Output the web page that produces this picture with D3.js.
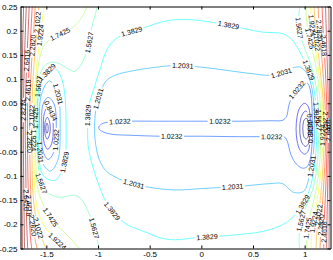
<!DOCTYPE html>
<html><head><meta charset="utf-8">
<script src="https://cdn.jsdelivr.net/npm/d3@7"></script>
<style>body{margin:0;background:#fff;} svg{display:block;}</style>
</head><body>
<svg id="chart" width="333" height="260"></svg>
<script>
// ---------- data ----------
const xDomain = [-1.75, 1.25];
const yDomain = [-0.25, 0.25];
const xTicks = [-1.5, -1, -0.5, 0, 0.5, 1];
const yTicks = [-0.25, -0.2, -0.15, -0.1, -0.05, 0, 0.05, 0.1, 0.15, 0.2, 0.25];
const levelValues = [0.4838, 0.6636, 0.8434, 1.0232, 1.2031, 1.3829, 1.5627, 1.7425, 1.9224, 2.1022, 2.2820, 2.4618, 2.6416, 2.8214, 3.0012];

// contour lines, [x, y] points in data units
const leftMin0484 = [[-1.494,0.009],[-1.485,0.005],[-1.482,-0.002],[-1.485,-0.008],[-1.494,-0.012],[-1.502,-0.008],[-1.505,-0.002],[-1.502,0.005]];
const leftMin0664 = [[-1.491,0.021],[-1.472,0.014],[-1.462,-0.002],[-1.472,-0.017],[-1.491,-0.024],[-1.509,-0.017],[-1.516,-0.002],[-1.509,0.014]];
const leftMin0843 = [[-1.486,0.042],[-1.448,0.029],[-1.433,-0.002],[-1.448,-0.033],[-1.486,-0.045],[-1.520,-0.033],[-1.528,-0.002],[-1.520,0.029]];
const leftMin1023 = [[-1.482,0.062],[-1.424,0.048],[-1.404,-0.002],[-1.424,-0.049],[-1.482,-0.066],[-1.532,-0.049],[-1.544,-0.002],[-1.532,0.048]];
const leftMin1203 = [[-1.472,0.096],[-1.395,0.075],[-1.366,-0.002],[-1.390,-0.068],[-1.462,-0.090],[-1.540,-0.072],[-1.564,-0.002],[-1.549,0.067]];
const leftMin1383 = [[-1.424,0.122],[-1.347,0.098],[-1.308,-0.002],[-1.332,-0.078],[-1.414,-0.109],[-1.530,-0.099],[-1.578,-0.002],[-1.549,0.098]];
const rightMin0484 = [[1.014,0.019],[1.031,0.015],[1.039,0.007],[1.041,-0.003],[1.039,-0.012],[1.031,-0.020],[1.014,-0.024],[0.994,-0.020],[0.985,-0.012],[0.982,-0.003],[0.985,0.007],[0.994,0.015]];
const rightMin0664 = [[1.009,0.034],[1.035,0.028],[1.047,0.015],[1.050,-0.003],[1.047,-0.020],[1.035,-0.034],[1.009,-0.039],[0.980,-0.034],[0.959,-0.020],[0.953,-0.003],[0.959,0.015],[0.980,0.028]];
const rightMin0843 = [[0.999,0.050],[1.033,0.044],[1.052,0.025],[1.057,-0.003],[1.052,-0.030],[1.033,-0.049],[0.999,-0.055],[0.956,-0.047],[0.927,-0.028],[0.917,-0.003],[0.927,0.023],[0.956,0.042]];
const valley1023 = [[-0.994,-0.001],[-0.960,0.008],[-0.874,0.011],[-0.690,0.013],[-0.401,0.013],[-0.014,0.013],[0.372,0.013],[0.661,0.014],[0.787,0.015],[0.825,0.023],[0.845,0.044],[0.874,0.062],[0.931,0.079],[0.989,0.091],[1.023,0.092],[1.045,0.085],[1.060,0.071],[1.070,0.046],[1.074,-0.002],[1.070,-0.039],[1.060,-0.059],[1.042,-0.074],[1.018,-0.082],[0.980,-0.084],[0.931,-0.078],[0.883,-0.064],[0.854,-0.047],[0.835,-0.030],[0.806,-0.020],[0.681,-0.019],[0.372,-0.019],[-0.014,-0.018],[-0.401,-0.018],[-0.690,-0.016],[-0.864,-0.014],[-0.951,-0.009]];
const basin1203 = [[-1.033,-0.002],[-1.028,0.025],[-1.009,0.050],[-0.970,0.077],[-0.922,0.096],[-0.835,0.108],[-0.642,0.118],[-0.420,0.125],[-0.256,0.128],[-0.014,0.125],[0.179,0.120],[0.497,0.111],[0.661,0.108],[0.796,0.114],[0.883,0.123],[0.951,0.125],[0.999,0.118],[1.038,0.104],[1.070,0.081],[1.089,0.046],[1.098,-0.002],[1.091,-0.037],[1.078,-0.064],[1.060,-0.088],[1.033,-0.111],[0.999,-0.130],[0.951,-0.135],[0.883,-0.133],[0.787,-0.116],[0.661,-0.116],[0.401,-0.121],[0.014,-0.126],[-0.256,-0.129],[-0.516,-0.123],[-0.738,-0.111],[-0.835,-0.102],[-0.931,-0.088],[-0.996,-0.061],[-1.028,-0.026]];
const basin1383 = [[-1.100,-0.002],[-1.096,0.031],[-1.076,0.056],[-1.044,0.077],[-1.009,0.102],[-0.975,0.124],[-0.941,0.147],[-0.900,0.166],[-0.845,0.180],[-0.770,0.191],[-0.680,0.198],[-0.577,0.204],[-0.449,0.214],[-0.288,0.222],[-0.111,0.223],[0.082,0.218],[0.275,0.211],[0.468,0.202],[0.594,0.197],[0.787,0.194],[0.864,0.184],[0.922,0.168],[0.980,0.145],[1.033,0.122],[1.071,0.098],[1.098,0.067],[1.113,0.036],[1.118,-0.002],[1.113,-0.037],[1.100,-0.072],[1.076,-0.105],[1.038,-0.134],[0.980,-0.159],[0.912,-0.179],[0.825,-0.196],[0.709,-0.208],[0.565,-0.216],[0.372,-0.221],[0.150,-0.225],[-0.063,-0.228],[-0.256,-0.232],[-0.401,-0.228],[-0.516,-0.218],[-0.642,-0.208],[-0.738,-0.198],[-0.854,-0.175],[-0.931,-0.150],[-1.009,-0.109],[-1.067,-0.068],[-1.096,-0.037]];
const leftWall1563 = [[-1.004,0.252],[-1.028,0.232],[-1.067,0.201],[-1.091,0.170],[-1.134,0.143],[-1.183,0.124],[-1.231,0.116],[-1.298,0.122],[-1.366,0.131],[-1.443,0.135],[-1.511,0.129],[-1.554,0.114],[-1.575,0.087],[-1.588,0.046],[-1.592,-0.002],[-1.588,-0.047],[-1.573,-0.088],[-1.549,-0.115],[-1.494,-0.134],[-1.382,-0.144],[-1.298,-0.142],[-1.221,-0.140],[-1.163,-0.148],[-1.115,-0.165],[-1.060,-0.192],[-1.012,-0.229],[-0.985,-0.252]];
const leftWall1743 = [[-1.105,0.252],[-1.144,0.232],[-1.202,0.215],[-1.269,0.203],[-1.366,0.193],[-1.462,0.182],[-1.520,0.170],[-1.559,0.149],[-1.585,0.118],[-1.599,0.067],[-1.605,-0.002],[-1.602,-0.068],[-1.588,-0.119],[-1.549,-0.150],[-1.491,-0.175],[-1.424,-0.196],[-1.337,-0.214],[-1.250,-0.233],[-1.173,-0.252]];
const leftWall1922 = [[-1.520,0.252],[-1.540,0.222],[-1.564,0.180],[-1.588,0.139],[-1.605,0.098],[-1.617,0.056],[-1.622,-0.002],[-1.619,-0.068],[-1.611,-0.130],[-1.588,-0.167],[-1.549,-0.192],[-1.491,-0.212],[-1.424,-0.229],[-1.366,-0.241],[-1.342,-0.252]];
const leftWall2102 = [[-1.573,0.252],[-1.588,0.211],[-1.607,0.160],[-1.627,0.108],[-1.637,0.056],[-1.641,-0.002],[-1.638,-0.068],[-1.631,-0.130],[-1.612,-0.171],[-1.578,-0.208],[-1.535,-0.233],[-1.501,-0.252]];
const leftWall2282 = [[-1.607,0.252],[-1.622,0.201],[-1.641,0.139],[-1.657,0.067],[-1.662,-0.002],[-1.658,-0.078],[-1.648,-0.150],[-1.631,-0.202],[-1.607,-0.233],[-1.588,-0.252]];
const leftWall2462 = [[-1.636,0.252],[-1.651,0.191],[-1.668,0.118],[-1.680,0.056],[-1.683,-0.002],[-1.680,-0.078],[-1.670,-0.161],[-1.655,-0.223],[-1.641,-0.252]];
const leftWall2642 = [[-1.665,0.252],[-1.680,0.180],[-1.696,0.098],[-1.704,-0.002],[-1.699,-0.088],[-1.691,-0.192],[-1.680,-0.252]];
const leftWall2821 = [[-1.694,0.252],[-1.706,0.180],[-1.718,0.087],[-1.723,-0.002],[-1.719,-0.109],[-1.711,-0.252]];
const leftWall3001 = [[-1.720,0.252],[-1.730,0.160],[-1.738,-0.002],[-1.735,-0.150],[-1.731,-0.252]];
const rightWall1563 = [[0.955,0.252],[0.941,0.226],[0.953,0.197],[0.989,0.170],[1.038,0.143],[1.081,0.114],[1.113,0.081],[1.131,0.046],[1.137,-0.002],[1.131,-0.047],[1.115,-0.088],[1.081,-0.126],[1.028,-0.156],[0.985,-0.179],[0.956,-0.204],[0.946,-0.229],[0.951,-0.252]];
const rightWall1743 = [[1.014,0.252],[1.018,0.222],[1.042,0.191],[1.081,0.155],[1.115,0.118],[1.139,0.081],[1.152,0.046],[1.156,-0.002],[1.152,-0.047],[1.139,-0.088],[1.110,-0.130],[1.071,-0.165],[1.038,-0.196],[1.018,-0.225],[1.014,-0.252]];
const rightWall1922 = [[1.057,0.252],[1.067,0.222],[1.091,0.180],[1.124,0.135],[1.153,0.087],[1.170,0.046],[1.175,-0.002],[1.170,-0.051],[1.153,-0.099],[1.124,-0.146],[1.091,-0.192],[1.067,-0.225],[1.062,-0.252]];
const rightWall2102 = [[1.091,0.252],[1.105,0.205],[1.134,0.149],[1.166,0.087],[1.185,0.036],[1.190,-0.002],[1.185,-0.047],[1.168,-0.109],[1.139,-0.175],[1.115,-0.225],[1.110,-0.252]];
const rightWall2282 = [[1.129,0.252],[1.144,0.197],[1.171,0.131],[1.195,0.056],[1.205,-0.002],[1.198,-0.064],[1.178,-0.140],[1.155,-0.212],[1.149,-0.252]];
const rightWall2462 = [[1.168,0.252],[1.183,0.180],[1.205,0.098],[1.217,-0.002],[1.209,-0.099],[1.190,-0.192],[1.185,-0.252]];
const rightWall2642 = [[1.202,0.252],[1.213,0.170],[1.226,0.077],[1.230,-0.002],[1.225,-0.099],[1.216,-0.192],[1.213,-0.252]];
const rightWall2821 = [[1.234,0.252],[1.238,0.139],[1.242,-0.002],[1.239,-0.130],[1.236,-0.252]];

// which level each line belongs to, and whether it closes on itself
const contourLines = [
  {name:'leftMin0484', level:levelValues[0], closed:true, pts:leftMin0484},
  {name:'leftMin0664', level:levelValues[1], closed:true, pts:leftMin0664},
  {name:'leftMin0843', level:levelValues[2], closed:true, pts:leftMin0843},
  {name:'leftMin1023', level:levelValues[3], closed:true, pts:leftMin1023},
  {name:'leftMin1203', level:levelValues[4], closed:true, pts:leftMin1203},
  {name:'leftMin1383', level:levelValues[5], closed:true, pts:leftMin1383},
  {name:'rightMin0484', level:levelValues[0], closed:true, pts:rightMin0484},
  {name:'rightMin0664', level:levelValues[1], closed:true, pts:rightMin0664},
  {name:'rightMin0843', level:levelValues[2], closed:true, pts:rightMin0843},
  {name:'valley1023', level:levelValues[3], closed:true, pts:valley1023},
  {name:'basin1203', level:levelValues[4], closed:true, pts:basin1203},
  {name:'basin1383', level:levelValues[5], closed:true, pts:basin1383},
  {name:'leftWall1563', level:levelValues[6], closed:false, pts:leftWall1563},
  {name:'leftWall1743', level:levelValues[7], closed:false, pts:leftWall1743},
  {name:'leftWall1922', level:levelValues[8], closed:false, pts:leftWall1922},
  {name:'leftWall2102', level:levelValues[9], closed:false, pts:leftWall2102},
  {name:'leftWall2282', level:levelValues[10], closed:false, pts:leftWall2282},
  {name:'leftWall2462', level:levelValues[11], closed:false, pts:leftWall2462},
  {name:'leftWall2642', level:levelValues[12], closed:false, pts:leftWall2642},
  {name:'leftWall2821', level:levelValues[13], closed:false, pts:leftWall2821},
  {name:'leftWall3001', level:levelValues[14], closed:false, pts:leftWall3001},
  {name:'rightWall1563', level:levelValues[6], closed:false, pts:rightWall1563},
  {name:'rightWall1743', level:levelValues[7], closed:false, pts:rightWall1743},
  {name:'rightWall1922', level:levelValues[8], closed:false, pts:rightWall1922},
  {name:'rightWall2102', level:levelValues[9], closed:false, pts:rightWall2102},
  {name:'rightWall2282', level:levelValues[10], closed:false, pts:rightWall2282},
  {name:'rightWall2462', level:levelValues[11], closed:false, pts:rightWall2462},
  {name:'rightWall2642', level:levelValues[12], closed:false, pts:rightWall2642},
  {name:'rightWall2821', level:levelValues[13], closed:false, pts:rightWall2821}
];

// inline label spots: line name and approximate data position (snapped to the line)
const labelSpots = [
  ['valley1023',-0.787,0.011],['valley1023',0.179,0.013],['valley1023',0.931,0.077],['valley1023',-0.285,-0.018],['valley1023',0.681,-0.019],
  ['basin1203',-0.179,0.126],['basin1203',0.777,0.112],['basin1203',-0.980,0.058],['basin1203',-0.652,-0.115],['basin1203',0.304,-0.123],['basin1203',1.062,-0.080],
  ['basin1383',-0.671,0.197],['basin1383',0.265,0.213],['basin1383',1.038,0.118],['basin1383',1.113,0.031],['basin1383',0.980,-0.159],['basin1383',0.053,-0.226],['basin1383',-0.864,-0.173],['basin1383',-1.100,0.025],
  ['leftMin0843',-1.462,0.034],['leftMin1023',-1.414,-0.026],['leftMin1203',-1.424,0.067],['leftMin1203',-1.559,-0.051],
  ['leftMin1383',-1.482,0.112],['leftMin1383',-1.347,-0.070],
  ['rightMin0843',1.057,-0.010],['rightMin0664',1.045,0.007],
  ['leftWall1563',-1.086,0.176],['leftWall1563',-1.573,0.085],['leftWall1563',-1.559,-0.117],['leftWall1563',-1.043,-0.208],
  ['leftWall1743',-1.366,0.193],['leftWall1743',-1.462,-0.185],['leftWall1743',-1.605,0.019],
  ['leftWall1922',-1.554,0.191],['leftWall1922',-1.395,-0.235],['leftWall1922',-1.622,-0.026],
  ['leftWall2102',-1.593,0.217],['leftWall2102',-1.588,-0.208],['leftWall2102',-1.641,0.025],
  ['leftWall2282',-1.626,0.170],['leftWall2282',-1.631,-0.202],['leftWall2282',-1.662,-0.030],
  ['leftWall2462',-1.660,0.077],['leftWall2462',-1.670,-0.161],
  ['leftWall2642',-1.699,0.139],['leftWall2642',-1.696,-0.150],
  ['leftWall2821',-1.718,0.036],
  ['rightWall1563',0.936,0.205],['rightWall1563',0.980,-0.194],['rightWall1563',1.137,0.015],
  ['rightWall1743',1.057,0.184],['rightWall1743',1.038,-0.208],
  ['rightWall1922',1.086,0.211],['rightWall1922',1.105,-0.196],['rightWall1922',1.175,-0.016],
  ['rightWall2102',1.124,0.180],['rightWall2102',1.144,-0.181],
  ['rightWall2282',1.163,0.201],['rightWall2282',1.171,-0.202],['rightWall2282',1.205,0.011],
  ['rightWall2462',1.192,0.170],['rightWall2462',1.192,-0.216],
  ['rightWall2642',1.226,-0.006]
];

// ---------- drawing ----------
const W = 333, H = 260;
const m = {l:20.5, r:330.5, t:6.5, b:248.5};
const x = d3.scaleLinear().domain(xDomain).range([m.l, m.r]);
const y = d3.scaleLinear().domain(yDomain).range([m.b, m.t]);
const colorLo = 0.574, colorHi = 2.732;
function jet(v){
  const t = Math.max(0, Math.min(1, (v - colorLo) / (colorHi - colorLo)));
  const c = u => Math.round(255 * Math.max(0, Math.min(1, u)));
  return `rgb(${c(1.5-Math.abs(4*t-3))},${c(1.5-Math.abs(4*t-2))},${c(1.5-Math.abs(4*t-1))})`;
}
const FONT = '"Liberation Sans", Arial, Helvetica, sans-serif';
const svg = d3.select('#chart');
svg.append('rect').attr('width',W).attr('height',H).attr('fill','#fff');
const defs = svg.append('defs');
defs.append('clipPath').attr('id','plotClip').append('rect')
  .attr('x',m.l).attr('y',m.t).attr('width',m.r-m.l).attr('height',m.b-m.t);

const gLines = svg.append('g').attr('clip-path','url(#plotClip)');
const gLabels = svg.append('g').attr('clip-path','url(#plotClip)')
  .attr('font-family',FONT).attr('font-size',7).attr('fill','#000');

const lineGen = d3.line().x(d => x(d[0])).y(d => y(d[1]));
const paths = {}, byName = {};
contourLines.forEach(c => {
  byName[c.name] = c;
  lineGen.curve(c.closed ? d3.curveCatmullRomClosed.alpha(0.5) : d3.curveCatmullRom.alpha(0.5));
  paths[c.name] = gLines.append('path').attr('d', lineGen(c.pts))
    .attr('fill','none').attr('stroke', jet(c.level)).attr('stroke-width',0.7)
    .attr('stroke-opacity',0.8);
});

const labelsByLine = {};
labelSpots.forEach(([name, lx, ly]) => {
  const c = byName[name], node = paths[name].node();
  const L = node.getTotalLength(), N = Math.max(60, Math.ceil(L * 2));
  const ax = x(lx), ay = y(ly);
  const pts = [];
  let best = 0, bd = Infinity;
  for (let i = 0; i <= N; i++) {
    const p = node.getPointAtLength(L * i / N);
    pts.push(p);
    const d = (p.x-ax)**2 + (p.y-ay)**2;
    if (d < bd) { bd = d; best = i; }
  }
  const k = 6;
  let i0 = best - k, i1 = best + k;
  if (c.closed) { i0 = (i0 + N) % N; i1 = i1 % N; }
  else { i0 = Math.max(0, i0); i1 = Math.min(N, i1); }
  const p0 = pts[i0], p1 = pts[i1], p = pts[best];
  let ang = Math.atan2(p1.y - p0.y, p1.x - p0.x) * 180 / Math.PI;
  if (ang > 90) ang -= 180;
  if (ang < -90) ang += 180;
  const t = gLabels.append('text')
    .attr('transform', `translate(${p.x},${p.y}) rotate(${ang})`)
    .attr('text-anchor','middle').attr('dy','0.35em')
    .text(c.level.toFixed(4));
  const w = t.node().getComputedTextLength();
  (labelsByLine[name] = labelsByLine[name] || []).push({x:p.x, y:p.y, ang, w});
});

Object.entries(labelsByLine).forEach(([name, arr], i) => {
  const mk = defs.append('mask').attr('id','mk'+i).attr('maskUnits','userSpaceOnUse')
    .attr('x',0).attr('y',0).attr('width',W).attr('height',H);
  mk.append('rect').attr('width',W).attr('height',H).attr('fill','#fff');
  arr.forEach(l => mk.append('rect')
    .attr('x', -l.w/2 - 1.5).attr('y', -3.5).attr('width', l.w + 3).attr('height', 7)
    .attr('fill','#000').attr('transform', `translate(${l.x},${l.y}) rotate(${l.ang})`));
  paths[name].attr('mask', `url(#mk${i})`);
});

// axes (MATLAB style box, inward ticks)
const fmt = d => String(d);
function styleAxis(g){
  g.attr('font-family',FONT).attr('font-size',8);
  g.selectAll('path.domain').attr('stroke','#000').attr('stroke-width',1);
  g.selectAll('.tick line').attr('stroke','#000').attr('stroke-width',1);
  g.selectAll('.tick text').attr('fill','#000');
}
svg.append('g').attr('transform',`translate(0,${m.b})`)
  .call(d3.axisBottom(x).tickValues(xTicks).tickFormat(fmt).tickSizeInner(-3).tickSizeOuter(0).tickPadding(2.5))
  .call(styleAxis);
svg.append('g').attr('transform',`translate(0,${m.t})`)
  .call(d3.axisTop(x).tickValues(xTicks).tickFormat('').tickSizeInner(-3).tickSizeOuter(0))
  .call(styleAxis);
svg.append('g').attr('transform',`translate(${m.l},0)`)
  .call(d3.axisLeft(y).tickValues(yTicks).tickFormat(fmt).tickSizeInner(-3).tickSizeOuter(0).tickPadding(3))
  .call(styleAxis);
svg.append('g').attr('transform',`translate(${m.r},0)`)
  .call(d3.axisRight(y).tickValues(yTicks).tickFormat('').tickSizeInner(-3).tickSizeOuter(0))
  .call(styleAxis);
</script>
</body></html>
